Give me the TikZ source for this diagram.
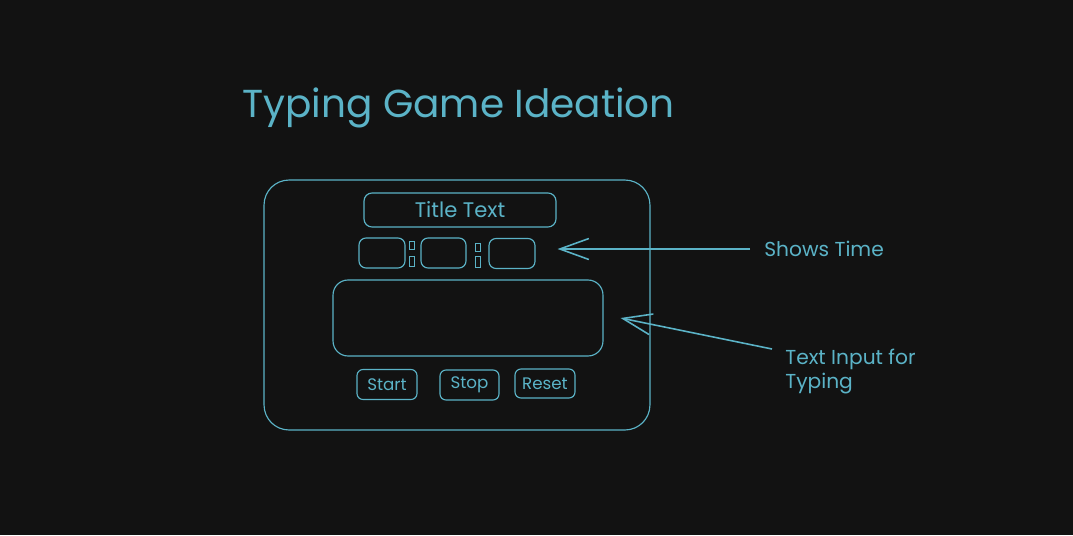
\documentclass[tikz,border=0pt]{standalone}
\usepackage{fontspec}
\setmainfont{Poppins}
\usepackage{xcolor}
\usetikzlibrary{arrows.meta, calc}
\definecolor{sketchcyan}{HTML}{5BB3C7}
\definecolor{canvasdark}{HTML}{121212}

\begin{document}
\begin{tikzpicture}[x=0.02cm, y=-0.02cm,
  sketchbox/.style={draw=sketchcyan, line width=0.65pt, rounded corners=#1, inner sep=0pt},
  sketchbox/.default=0.12cm,
  btn/.style={sketchbox, minimum width=1.2cm, minimum height=0.6cm, font=\fontsize{9.5}{11}\selectfont},
  clockbox/.style={sketchbox=0.14cm, minimum width=0.92cm, minimum height=0.6cm},
  note/.style={text=sketchcyan, inner sep=0pt, font=\fontsize{11.5}{13.6}\selectfont},
  pointer/.style={draw=sketchcyan, line width=0.9pt, -{Straight Barb[length=0.58cm, width=0.42cm]}}]
\fill[canvasdark] (0,0) rectangle (1073,535);
\node[text=sketchcyan, inner sep=0pt, anchor=base west, font=\fontsize{22.2}{26}\selectfont]
  (heading) at (242,117) {Typing Game Ideation};
% phone-like frame
\node[sketchbox=0.5cm, minimum width=7.72cm, minimum height=5cm] (frame) at (457,305) {};
\node[sketchbox=0.16cm, text=sketchcyan, minimum width=3.84cm, minimum height=0.68cm,
  font=\fontsize{12}{14}\selectfont] (titlebox) at (460,210) {Title Text};
% timer boxes
\node[clockbox] (clock1) at (382,253) {};
\node[clockbox, minimum width=0.9cm] (clock2) at (443.5,253) {};
\node[clockbox] (clock3) at (512,253.5) {};
\draw[sketchcyan, line width=0.5pt] (409,241) rectangle (414,249) (409,256) rectangle (414,266);
\draw[sketchcyan, line width=0.5pt] (475,243) rectangle (480,251) (475,256) rectangle (480,267);
\node[sketchbox=0.3cm, minimum width=5.4cm, minimum height=1.52cm] (textin) at (468,318) {};
% buttons
\node[btn, text=sketchcyan] (startbtn) at (387,384.5) {Start};
\node[btn, text=sketchcyan, minimum width=1.18cm] (stopbtn) at (469.5,385) {Stop};
\node[btn, text=sketchcyan, minimum height=0.58cm] (resetbtn) at (545,383.5) {Reset};
% notes
\node[note, anchor=west] (showtime) at (764,249) {Shows Time};
\node[note, anchor=north west, align=left] (typelbl) at (785,349) {Text Input for\\Typing};
\draw[pointer, shorten <=0.28cm, shorten >=0.44cm] (showtime.west) -- (showtime.west -| clock3.east);
\draw[pointer] ([xshift=-0.26cm]typelbl.north west) -- ($(textin.east)+(17,0)$);
\end{tikzpicture}
\end{document}
